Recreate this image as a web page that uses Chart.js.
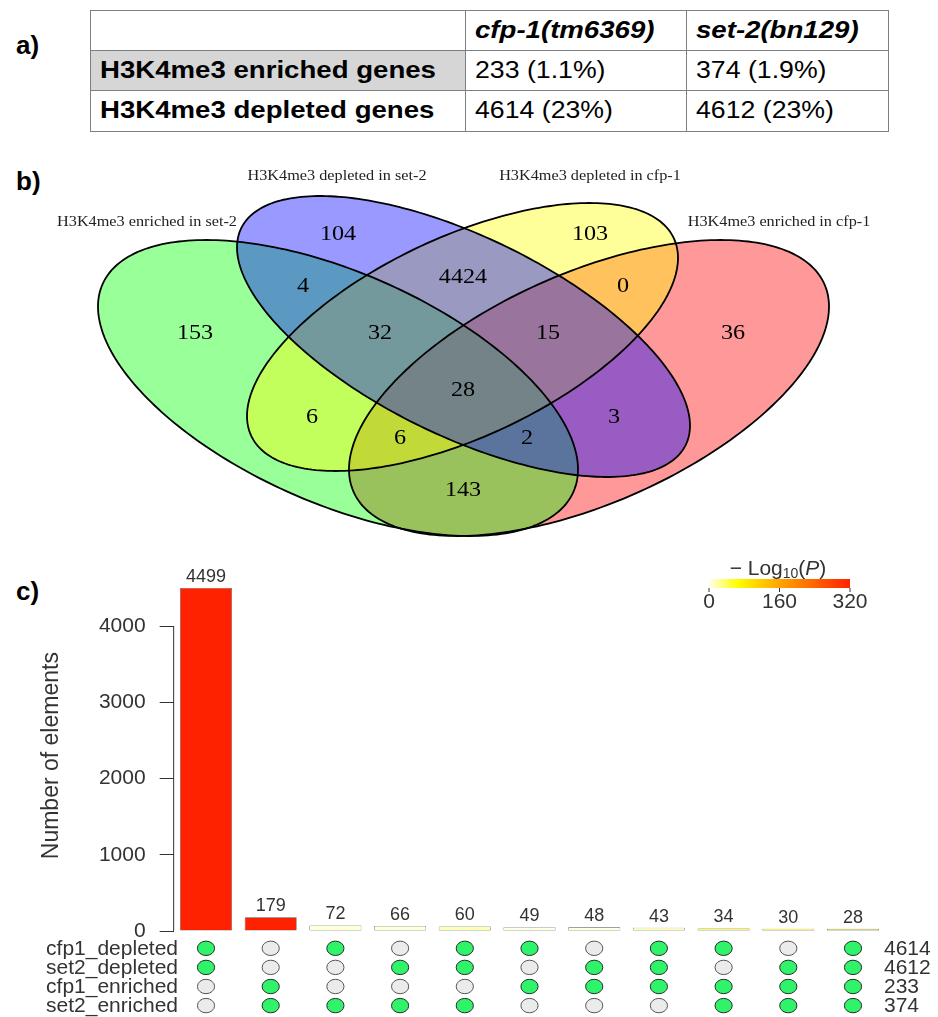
<!DOCTYPE html>
<html>
<head>
<meta charset="utf-8">
<title>H3K4me3 enriched and depleted genes in cfp-1 and set-2 mutants</title>
<script src="https://cdn.jsdelivr.net/npm/chart.js@4.4.0/dist/chart.umd.min.js"></script>
<style>
  html, body { margin: 0; padding: 0; background: #fff; }
  body { width: 938px; height: 1017px; position: relative; overflow: hidden; }
  .tag { position: absolute; left: 16px; font: bold 26px "Liberation Sans", Arial, sans-serif; color: #000; line-height: 1; }
  #summary { position: absolute; left: 90px; top: 10px; width: 798px; border-collapse: collapse; table-layout: fixed;
             font-family: "Liberation Sans", Arial, sans-serif; font-size: 23px; color: #000; }
  #summary td { border: 1.5px solid #7f7f7f; padding: 0 0 0 9px; white-space: nowrap; overflow: visible; vertical-align: middle; }
  #summary td span { display: inline-block; transform: scaleX(1.16); transform-origin: left center; }
  #summary td.rowhead span, #summary tr.head td span { transform: scaleX(1.2); }
  #summary tr.head td { height: 38.5px; font-weight: bold; font-style: italic; }
  #summary tr.body td { height: 39.5px; }
  #summary td.rowhead { font-weight: bold; }
  #summary tr.shade td.rowhead { background: #d6d6d6; }
  canvas { position: absolute; left: 0; }
  #venn { top: 140px; }
  #upset { top: 540px; }
</style>
</head>
<body>
<div class="tag" style="top:32px">a)</div>
<div class="tag" style="top:168px">b)</div>
<div class="tag" style="top:578px">c)</div>

<table id="summary">
  <colgroup><col style="width:375px"><col style="width:221px"><col style="width:202px"></colgroup>
  <tbody></tbody>
</table>

<canvas id="venn" width="938" height="400"></canvas>
<canvas id="upset" width="938" height="477"></canvas>

<script>
// ---------- a) summary table ----------
const strainNames = ['cfp-1(tm6369)', 'set-2(bn129)'];
const geneClasses = ['H3K4me3 enriched genes', 'H3K4me3 depleted genes'];
const cfp1GeneCounts = [233, 4614];
const cfp1GenePercent = ['1.1%', '23%'];
const set2GeneCounts = [374, 4612];
const set2GenePercent = ['1.9%', '23%'];

(function buildTable() {
  const body = document.querySelector('#summary tbody');
  const head = document.createElement('tr');
  head.className = 'head';
  head.innerHTML = '<td></td>' + strainNames.map(s => '<td><span>' + s + '</span></td>').join('');
  body.appendChild(head);
  geneClasses.forEach((label, i) => {
    const tr = document.createElement('tr');
    tr.className = 'body' + (i === 0 ? ' shade' : '');
    tr.innerHTML =
      '<td class="rowhead"><span>' + label + '</span></td>' +
      '<td><span>' + cfp1GeneCounts[i] + ' (' + cfp1GenePercent[i] + ')</span></td>' +
      '<td><span>' + set2GeneCounts[i] + ' (' + set2GenePercent[i] + ')</span></td>';
    body.appendChild(tr);
  });
})();

// ---------- b) four-set Venn diagram ----------
const vennSetNames = ['H3K4me3 enriched in set-2', 'H3K4me3 depleted in set-2',
                      'H3K4me3 depleted in cfp-1', 'H3K4me3 enriched in cfp-1'];
// region keys: E2 = enriched set-2, D2 = depleted set-2, D1 = depleted cfp-1, E1 = enriched cfp-1
const vennRegionKeys = ['E2', 'D2', 'D1', 'E1', 'E2&D2', 'D2&D1', 'D1&E1', 'E2&E1', 'E2&D2&D1',
                        'D2&D1&E1', 'E2&D1', 'D2&E1', 'E2&D1&E1', 'E2&D2&E1', 'E2&D2&D1&E1'];
const vennRegionCounts = [153, 104, 103, 36, 4, 4424, 0, 143, 32, 15, 6, 3, 6, 2, 28];

// diagram geometry (panel units: x across, y down)
const vennShapes = {
  E1: { cx: 589,   cy: 248,   w: 240,   h: 148,   rho: 0.55,  dir: -1, fill: 'rgb(255,0,0)' },
  E2: { cx: 338,   cy: 248,   w: 240,   h: 148,   rho: 0.55,  dir: 1,  fill: 'rgb(0,255,0)' },
  D1: { cx: 462.5, cy: 197,   w: 215.5, h: 134,   rho: 0.59,  dir: -1, fill: 'rgb(255,255,0)' },
  D2: { cx: 463.5, cy: 196.5, w: 226.5, h: 140.5, rho: 0.634, dir: 1,  fill: 'rgb(0,0,255)' }
};
const vennPaintOrder = ['E1', 'E2', 'D1', 'D2'];
const vennRegionSpots = {
  'E2': [195, 193], 'D2': [338, 94], 'D1': [590, 94], 'E1': [733, 193],
  'E2&D2': [303, 146], 'D2&D1': [463, 137], 'D1&E1': [623, 146], 'E2&E1': [463, 350],
  'E2&D2&D1': [380, 193], 'D2&D1&E1': [548, 193], 'E2&D1': [312, 277], 'D2&E1': [614, 277],
  'E2&D1&E1': [400, 298], 'E2&D2&E1': [527, 298], 'E2&D2&D1&E1': [463, 250]
};
const vennNameSpots = [[147, 82], [337, 36], [590, 36], [779, 82]];

function stretchedText(ctx, text, x, y, sx) {
  ctx.save();
  ctx.translate(x, y);
  ctx.scale(sx, 1);
  ctx.fillText(text, 0, 0);
  ctx.restore();
}

function traceEllipse(ctx, xs, ys, e) {
  const s = Math.sqrt(1 - e.rho * e.rho);
  ctx.beginPath();
  const n = 260;
  for (let k = 0; k <= n; k++) {
    const t = k / n * 2 * Math.PI;
    const u = e.cx + e.dir * e.w * Math.cos(t);
    const v = e.cy + e.h * (e.rho * Math.cos(t) + s * Math.sin(t));
    const px = xs.getPixelForValue(u), py = ys.getPixelForValue(v);
    if (k === 0) ctx.moveTo(px, py); else ctx.lineTo(px, py);
  }
  ctx.closePath();
}

const vennPlugin = {
  id: 'vennDraw',
  afterDraw(chart) {
    const ctx = chart.ctx, xs = chart.scales.x, ys = chart.scales.y;
    ctx.save();
    vennPaintOrder.forEach(k => {
      traceEllipse(ctx, xs, ys, vennShapes[k]);
      ctx.globalAlpha = 0.4;
      ctx.fillStyle = vennShapes[k].fill;
      ctx.fill();
    });
    ctx.globalAlpha = 1;
    ctx.strokeStyle = '#000';
    ctx.lineWidth = 1.8;
    vennPaintOrder.forEach(k => {
      traceEllipse(ctx, xs, ys, vennShapes[k]);
      ctx.stroke();
    });
    ctx.fillStyle = '#000';
    ctx.textAlign = 'center';
    ctx.textBaseline = 'middle';
    ctx.font = '21px "Liberation Serif", "Times New Roman", serif';
    vennRegionKeys.forEach((key, i) => {
      const p = vennRegionSpots[key];
      stretchedText(ctx, String(vennRegionCounts[i]), xs.getPixelForValue(p[0]), ys.getPixelForValue(p[1]), 1.15);
    });
    ctx.fillStyle = '#222';
    ctx.font = '14px "Liberation Serif", "Times New Roman", serif';
    vennSetNames.forEach((name, i) => {
      const p = vennNameSpots[i];
      stretchedText(ctx, name, xs.getPixelForValue(p[0]), ys.getPixelForValue(p[1]), 1.16);
    });
    ctx.restore();
  }
};

new Chart(document.getElementById('venn'), {
  type: 'scatter',
  data: { datasets: [] },
  options: {
    responsive: false,
    animation: false,
    events: [],
    layout: { padding: 0 },
    plugins: { legend: { display: false }, tooltip: { enabled: false } },
    scales: {
      x: { type: 'linear', min: 0, max: 938, display: false },
      y: { type: 'linear', min: 0, max: 400, reverse: true, display: false }
    }
  },
  plugins: [vennPlugin]
});

// ---------- c) intersection bar chart ----------
const sansFont = '"Liberation Sans", Arial, Helvetica, sans-serif';
const intersectionCounts = [4499, 179, 72, 66, 60, 49, 48, 43, 34, 30, 28];
const intersectionLog10P = [320, 320, 6, 5, 16, 3, 3, 13, 44, 44, 48];
const setNames = ['cfp1_depleted', 'set2_depleted', 'cfp1_enriched', 'set2_enriched'];
const setSizes = [4614, 4612, 233, 374];
const cfp1DepletedIn = [1, 0, 1, 0, 1, 1, 0, 1, 1, 0, 1];
const set2DepletedIn = [1, 0, 0, 1, 1, 0, 1, 1, 0, 1, 1];
const cfp1EnrichedIn = [0, 1, 0, 0, 0, 1, 1, 1, 1, 1, 1];
const set2EnrichedIn = [0, 1, 1, 1, 1, 0, 0, 0, 1, 1, 1];
const membership = [cfp1DepletedIn, set2DepletedIn, cfp1EnrichedIn, set2EnrichedIn];
const yTicks = [0, 1000, 2000, 3000, 4000];
const pLegendTicks = [0, 160, 320];
const pMax = 320;

const colourStops = [[0, [255, 255, 238]], [0.2, [255, 255, 0]], [0.5, [255, 165, 0]], [1, [255, 34, 0]]];
function pColour(v) {
  const t = Math.min(Math.max(v / pMax, 0), 1);
  for (let i = 1; i < colourStops.length; i++) {
    if (t <= colourStops[i][0]) {
      const [t0, c0] = colourStops[i - 1], [t1, c1] = colourStops[i];
      const f = (t - t0) / (t1 - t0);
      const c = c0.map((a, j) => Math.round(a + (c1[j] - a) * f));
      return 'rgb(' + c.join(',') + ')';
    }
  }
  return 'rgb(255,34,0)';
}

const upsetPlugin = {
  id: 'upsetExtras',
  afterDraw(chart) {
    const ctx = chart.ctx, xs = chart.scales.x, ys = chart.scales.y, area = chart.chartArea;
    ctx.save();
    // axis line spanning the labelled range
    ctx.strokeStyle = '#333';
    ctx.lineWidth = 1;
    ctx.beginPath();
    ctx.moveTo(area.left, ys.getPixelForValue(yTicks[0]));
    ctx.lineTo(area.left, ys.getPixelForValue(yTicks[yTicks.length - 1]));
    ctx.stroke();

    // value labels above bars
    const meta = chart.getDatasetMeta(0);
    ctx.fillStyle = '#333';
    ctx.font = '18px ' + sansFont;
    ctx.textAlign = 'center';
    ctx.textBaseline = 'middle';
    meta.data.forEach((bar, i) => {
      ctx.fillText(String(intersectionCounts[i]), bar.x, bar.y - 11);
    });

    // membership matrix
    const rowY = r => area.bottom + 17.3 + r * 19.1;
    ctx.font = '21px ' + sansFont;
    setNames.forEach((name, r) => {
      const y = rowY(r);
      ctx.fillStyle = '#333';
      ctx.textAlign = 'right';
      ctx.fillText(name, 178, y + 1);
      ctx.textAlign = 'left';
      ctx.fillText(String(setSizes[r]), 884, y + 1);
      membership[r].forEach((inSet, c) => {
        const x = xs.getPixelForValue(c);
        ctx.beginPath();
        ctx.ellipse(x, y, 8.6, 7.2, 0, 0, 2 * Math.PI);
        ctx.fillStyle = inSet ? '#2ff46a' : '#ebebeb';
        ctx.fill();
        ctx.lineWidth = 1;
        ctx.strokeStyle = inSet ? '#2a2a2a' : '#555';
        ctx.stroke();
      });
    });

    // colour key for -log10(P)
    const kx0 = 709, kx1 = 850, ky0 = 39, ky1 = 48;
    const grad = ctx.createLinearGradient(kx0, 0, kx1, 0);
    for (let k = 0; k <= 40; k++) grad.addColorStop(k / 40, pColour(pMax * k / 40));
    ctx.fillStyle = grad;
    ctx.fillRect(kx0, ky0, kx1 - kx0, ky1 - ky0);
    ctx.strokeStyle = '#333';
    ctx.fillStyle = '#333';
    ctx.textAlign = 'center';
    ctx.font = '21px ' + sansFont;
    pLegendTicks.forEach(v => {
      const x = kx0 + (kx1 - kx0) * v / pMax;
      ctx.beginPath();
      ctx.moveTo(x, ky1);
      ctx.lineTo(x, ky1 + 4);
      ctx.stroke();
      ctx.fillText(String(v), x, ky1 + 14);
    });
    // title: −Log10(P)
    const parts = [
      { t: '\u2212 Log', f: '21px ' + sansFont, dy: 0 },
      { t: '10', f: '14px ' + sansFont, dy: 5 },
      { t: '(', f: '21px ' + sansFont, dy: 0 },
      { t: 'P', f: 'italic 21px ' + sansFont, dy: 0 },
      { t: ')', f: '21px ' + sansFont, dy: 0 }
    ];
    let total = 0;
    parts.forEach(p => { ctx.font = p.f; p.w = ctx.measureText(p.t).width; total += p.w; });
    let x = 778 - total / 2;
    ctx.textAlign = 'left';
    parts.forEach(p => { ctx.font = p.f; ctx.fillText(p.t, x, 29 + p.dy); x += p.w; });
    ctx.restore();
  }
};

new Chart(document.getElementById('upset'), {
  type: 'bar',
  data: {
    labels: intersectionCounts.map((_, i) => 'I' + (i + 1)),
    datasets: [{
      data: intersectionCounts,
      backgroundColor: intersectionLog10P.map(pColour),
      borderColor: '#555',
      borderWidth: 0.6,
      borderSkipped: false,
      categoryPercentage: 1,
      barPercentage: 0.804
    }]
  },
  options: {
    responsive: false,
    animation: false,
    events: [],
    layout: { padding: { left: 0, right: 52.65, top: 40.3, bottom: 86 } },
    plugins: { legend: { display: false }, tooltip: { enabled: false } },
    scales: {
      x: { type: 'category', display: false, offset: true },
      y: {
        min: 0,
        max: 4600,
        afterBuildTicks(scale) { scale.ticks = yTicks.map(v => ({ value: v })); },
        ticks: { font: { size: 21, family: sansFont }, color: '#333', padding: 14,
                 callback: v => String(v) },
        grid: { drawOnChartArea: false, drawTicks: true, tickLength: 14, color: '#333', lineWidth: 1 },
        border: { display: false },
        title: { display: true, text: 'Number of elements', color: '#333',
                 font: { size: 23, family: sansFont }, padding: { top: 38, bottom: 0 } },
        afterFit(scale) { scale.width = 173.65; }
      }
    }
  },
  plugins: [upsetPlugin]
});
</script>
</body>
</html>
